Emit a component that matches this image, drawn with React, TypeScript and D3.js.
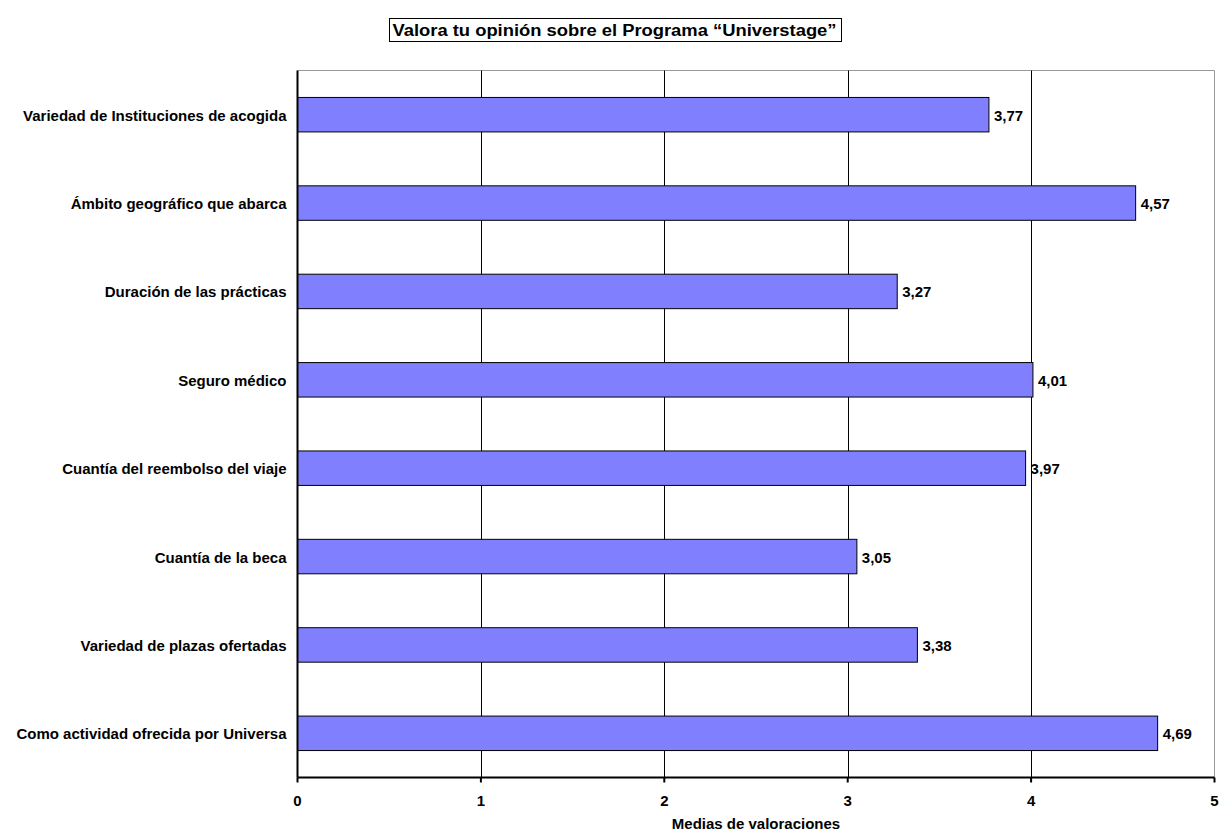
import React from "react";
import * as d3 from "d3";

const categories = [
  "Variedad de Instituciones de acogida",
  "Ámbito geográfico que abarca",
  "Duración de las prácticas",
  "Seguro médico",
  "Cuantía del reembolso del viaje",
  "Cuantía de la beca",
  "Variedad de plazas ofertadas",
  "Como actividad ofrecida por Universa",
];
const values = [3.77, 4.57, 3.27, 4.01, 3.97, 3.05, 3.38, 4.69];
const xTicks = [0, 1, 2, 3, 4, 5];
const title = "Valora tu opinión sobre el Programa “Universtage”";
const xTitle = "Medias de valoraciones";

export default function App() {
  const W = 1222, H = 834;
  const left = 297.5, right = 1214.5, top = 70.5, bottom = 777.5;
  const x = d3.scaleLinear().domain([0, 5]).range([left, right]);
  const y = d3.scaleBand().domain(categories).range([top, bottom]).paddingInner(0.61).paddingOuter(0.305);
  const font = "Arial, 'Liberation Sans', sans-serif";
  const fmt = (v: number) => v.toFixed(2).replace(".", ",");
  return (
    <svg width={W} height={H} style={{ position: "absolute", left: 0, top: 0, background: "#fff" }} fontFamily={font}>
      <rect x={0} y={0} width={W} height={H} fill="#fff" />
      {/* title */}
      <rect x={389.5} y={18.5} width={452} height={23} fill="#fff" stroke="#000" strokeWidth={1} />
      <text x={392.5} y={36} fontSize={16} fontWeight="bold" textLength={444} lengthAdjust="spacingAndGlyphs">{title}</text>
      {/* plot border top/right */}
      <line x1={left} x2={right} y1={top} y2={top} stroke="#999" />
      <line x1={right} x2={right} y1={top} y2={bottom} stroke="#999" />
      {/* gridlines */}
      {xTicks.slice(1, -1).map((t) => (
        <line key={t} x1={Math.round(x(t)) + 0.5} x2={Math.round(x(t)) + 0.5} y1={top} y2={bottom} stroke="#000" strokeWidth={1} />
      ))}
      {/* bars */}
      {categories.map((c, i) => (
        <g key={c}>
          <rect x={x(0)} y={y(c)!} width={x(values[i]) - x(0)} height={y.bandwidth()} fill="#8080FF" stroke="#000" strokeWidth={1} />
          <text x={x(values[i]) + 5} y={y(c)! + y.bandwidth() / 2 + 6} fontSize={15} fontWeight="bold">{fmt(values[i])}</text>
          <text x={left - 11} y={y(c)! + y.bandwidth() / 2 + 6} fontSize={15} fontWeight="bold" textAnchor="end">{c}</text>
        </g>
      ))}
      {/* axes */}
      <line x1={left} x2={left} y1={top} y2={bottom} stroke="#000" strokeWidth={2} />
      <line x1={left} x2={right} y1={bottom} y2={bottom} stroke="#000" strokeWidth={2} />
      {xTicks.map((t) => (
        <g key={t}>
          <line x1={x(t)} x2={x(t)} y1={bottom} y2={bottom + 5} stroke="#000" strokeWidth={2} />
          <text x={x(t)} y={806} textAnchor="middle" fontSize={15} fontWeight="bold">{t}</text>
        </g>
      ))}
      <text x={(left + right) / 2} y={829} textAnchor="middle" fontSize={15} fontWeight="bold">{xTitle}</text>
    </svg>
  );
}
